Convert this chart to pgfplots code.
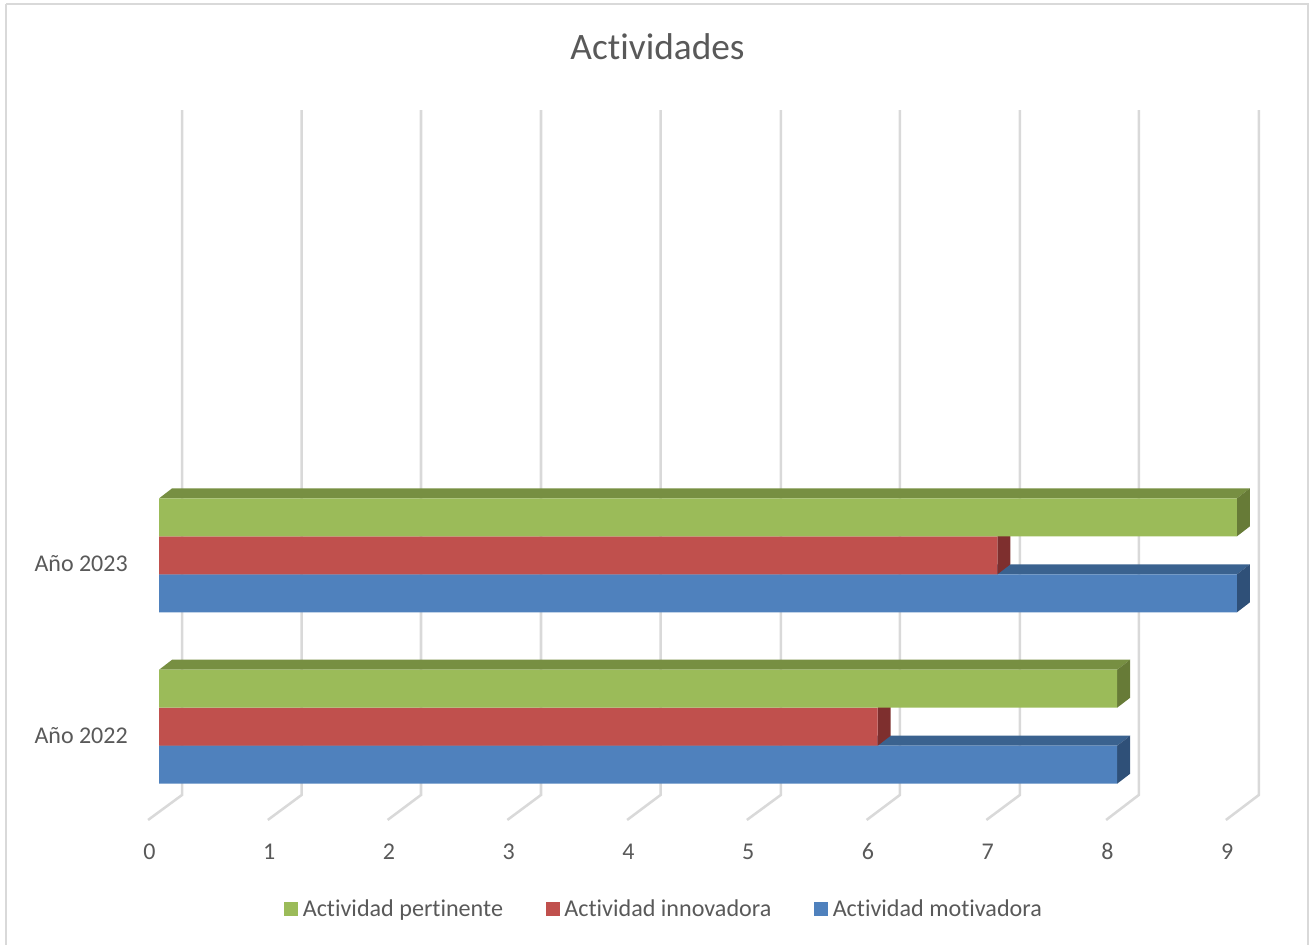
\documentclass[border=0pt]{standalone}
\usepackage{pgfplots}
\usepackage{fontspec}
\setmainfont[Ligatures=NoCommon]{Carlito}
\pgfplotsset{compat=1.18}
\definecolor{txt}{HTML}{595959}
\definecolor{gridc}{HTML}{D9D9D9}
\definecolor{gf}{HTML}{9BBB59}\definecolor{gt}{HTML}{778F42}\definecolor{gs}{HTML}{677B37}
\definecolor{rf}{HTML}{C0504D}\definecolor{rt}{HTML}{943C3A}\definecolor{rs}{HTML}{7E2F2E}
\definecolor{bf}{HTML}{4F81BD}\definecolor{bt}{HTML}{3A628F}\definecolor{bs}{HTML}{2F5078}
\begin{document}
\begin{tikzpicture}
\begin{axis}[
  scale only axis, width=981.75pt, height=708.75pt,
  xmin=-1.32743, xmax=9.6010, ymin=-1.2734, ymax=4.2398,
  axis line style={draw=none}, major tick length=0pt,
  xtick={0,1,2,3,4,5,6,7,8,9},
  ytick={0,1}, yticklabels={Año 2022,Año 2023},
  /pgf/number format/assume math mode=true,
  tick label style={font=\fontsize{18}{20}\selectfont, text=txt},
  xticklabel style={anchor=center, xshift=-7.3pt, yshift=70pt},
  yticklabel style={anchor=east, xshift=99.25pt, yshift=-6.5pt},
  title={Actividades},
  title style={at={(0.5023,0.9418)}, anchor=center, font=\fontsize{28}{30}\selectfont, text=txt},
  legend columns=3, reverse legend,
  legend style={at={(0.217,0.038)}, anchor=west, draw=none, fill=none, inner sep=0pt, outer sep=0pt,
    font=\fontsize{18.1}{20}\selectfont, text=txt,
    /tikz/every odd column/.append style={column sep=1.5pt},
    /tikz/every even column/.append style={column sep=30pt}},
  legend image code/.code={\fill[#1,draw=none] (0pt,-5.25pt) rectangle (10.5pt,5.25pt);},
  unbounded coords=jump, clip=true,
]
% frame
\addplot[gridc, line width=1.5pt, forget plot] coordinates {(-1.2774,-1.2734)(-1.2774,4.2167)};
\addplot[gridc, line width=1pt, forget plot] coordinates {(-1.2774,4.2167)(9.5925,4.2167)(9.5925,-1.2734)};
% gridlines
\addplot[gridc, line width=1.9pt, forget plot] coordinates {
(0.192,3.5983)(0.192,-0.3982)(-0.092,-0.5441)(nan,nan)
(1.190,3.5983)(1.190,-0.3982)(0.908,-0.5441)(nan,nan)
(2.187,3.5983)(2.187,-0.3982)(1.908,-0.5441)(nan,nan)
(3.189,3.5983)(3.189,-0.3982)(2.908,-0.5441)(nan,nan)
(4.187,3.5983)(4.187,-0.3982)(3.908,-0.5441)(nan,nan)
(5.192,3.5983)(5.192,-0.3982)(4.908,-0.5441)(nan,nan)
(6.186,3.5983)(6.186,-0.3982)(5.908,-0.5441)(nan,nan)
(7.188,3.5983)(7.188,-0.3982)(6.908,-0.5441)(nan,nan)
(8.181,3.5983)(8.181,-0.3982)(7.908,-0.5441)(nan,nan)
(9.184,3.5983)(9.184,-0.3982)(8.908,-0.5441)};
% blue
\addplot[fill=bt,draw=none,forget plot] coordinates {(0,-.1109)(.1085,-.0526)(8.1085,-.0526)(8,-.1109)} --cycle;
\addplot[fill=bs,draw=none,forget plot] coordinates {(8,-.3326)(8,-.1109)(8.1085,-.0526)(8.1085,-.2743)} --cycle;
\addplot[fill=bt,draw=none,forget plot] coordinates {(0,.8891)(.1085,.9474)(9.1085,.9474)(9,.8891)} --cycle;
\addplot[fill=bs,draw=none,forget plot] coordinates {(9,.6674)(9,.8891)(9.1085,.9474)(9.1085,.7257)} --cycle;
\addplot[xbar, bar width=28.5pt, bar shift=-28.5pt, fill=bf, draw=none] coordinates {(8,0)(9,1)};
\addlegendentry{Actividad motivadora}
% red
\addplot[fill=rs,draw=none,forget plot] coordinates {(6,-.1109)(6,.1109)(6.1085,.1692)(6.1085,-.0526)} --cycle;
\addplot[fill=rs,draw=none,forget plot] coordinates {(7,.8891)(7,1.1109)(7.1085,1.1692)(7.1085,.9474)} --cycle;
\addplot[xbar, bar width=28.5pt, bar shift=0pt, fill=rf, draw=none] coordinates {(6,0)(7,1)};
\addlegendentry{Actividad innovadora}
% green
\addplot[fill=gt,draw=none,forget plot] coordinates {(0,.3326)(.1085,.3909)(8.1085,.3909)(8,.3326)} --cycle;
\addplot[fill=gs,draw=none,forget plot] coordinates {(8,.1109)(8,.3326)(8.1085,.3909)(8.1085,.1692)} --cycle;
\addplot[fill=gt,draw=none,forget plot] coordinates {(0,1.3326)(.1085,1.3909)(9.1085,1.3909)(9,1.3326)} --cycle;
\addplot[fill=gs,draw=none,forget plot] coordinates {(9,1.1109)(9,1.3326)(9.1085,1.3909)(9.1085,1.1692)} --cycle;
\addplot[xbar, bar width=28.5pt, bar shift=28.5pt, fill=gf, draw=none] coordinates {(8,0)(9,1)};
\addlegendentry{Actividad pertinente}
\end{axis}
\end{tikzpicture}
\end{document}
